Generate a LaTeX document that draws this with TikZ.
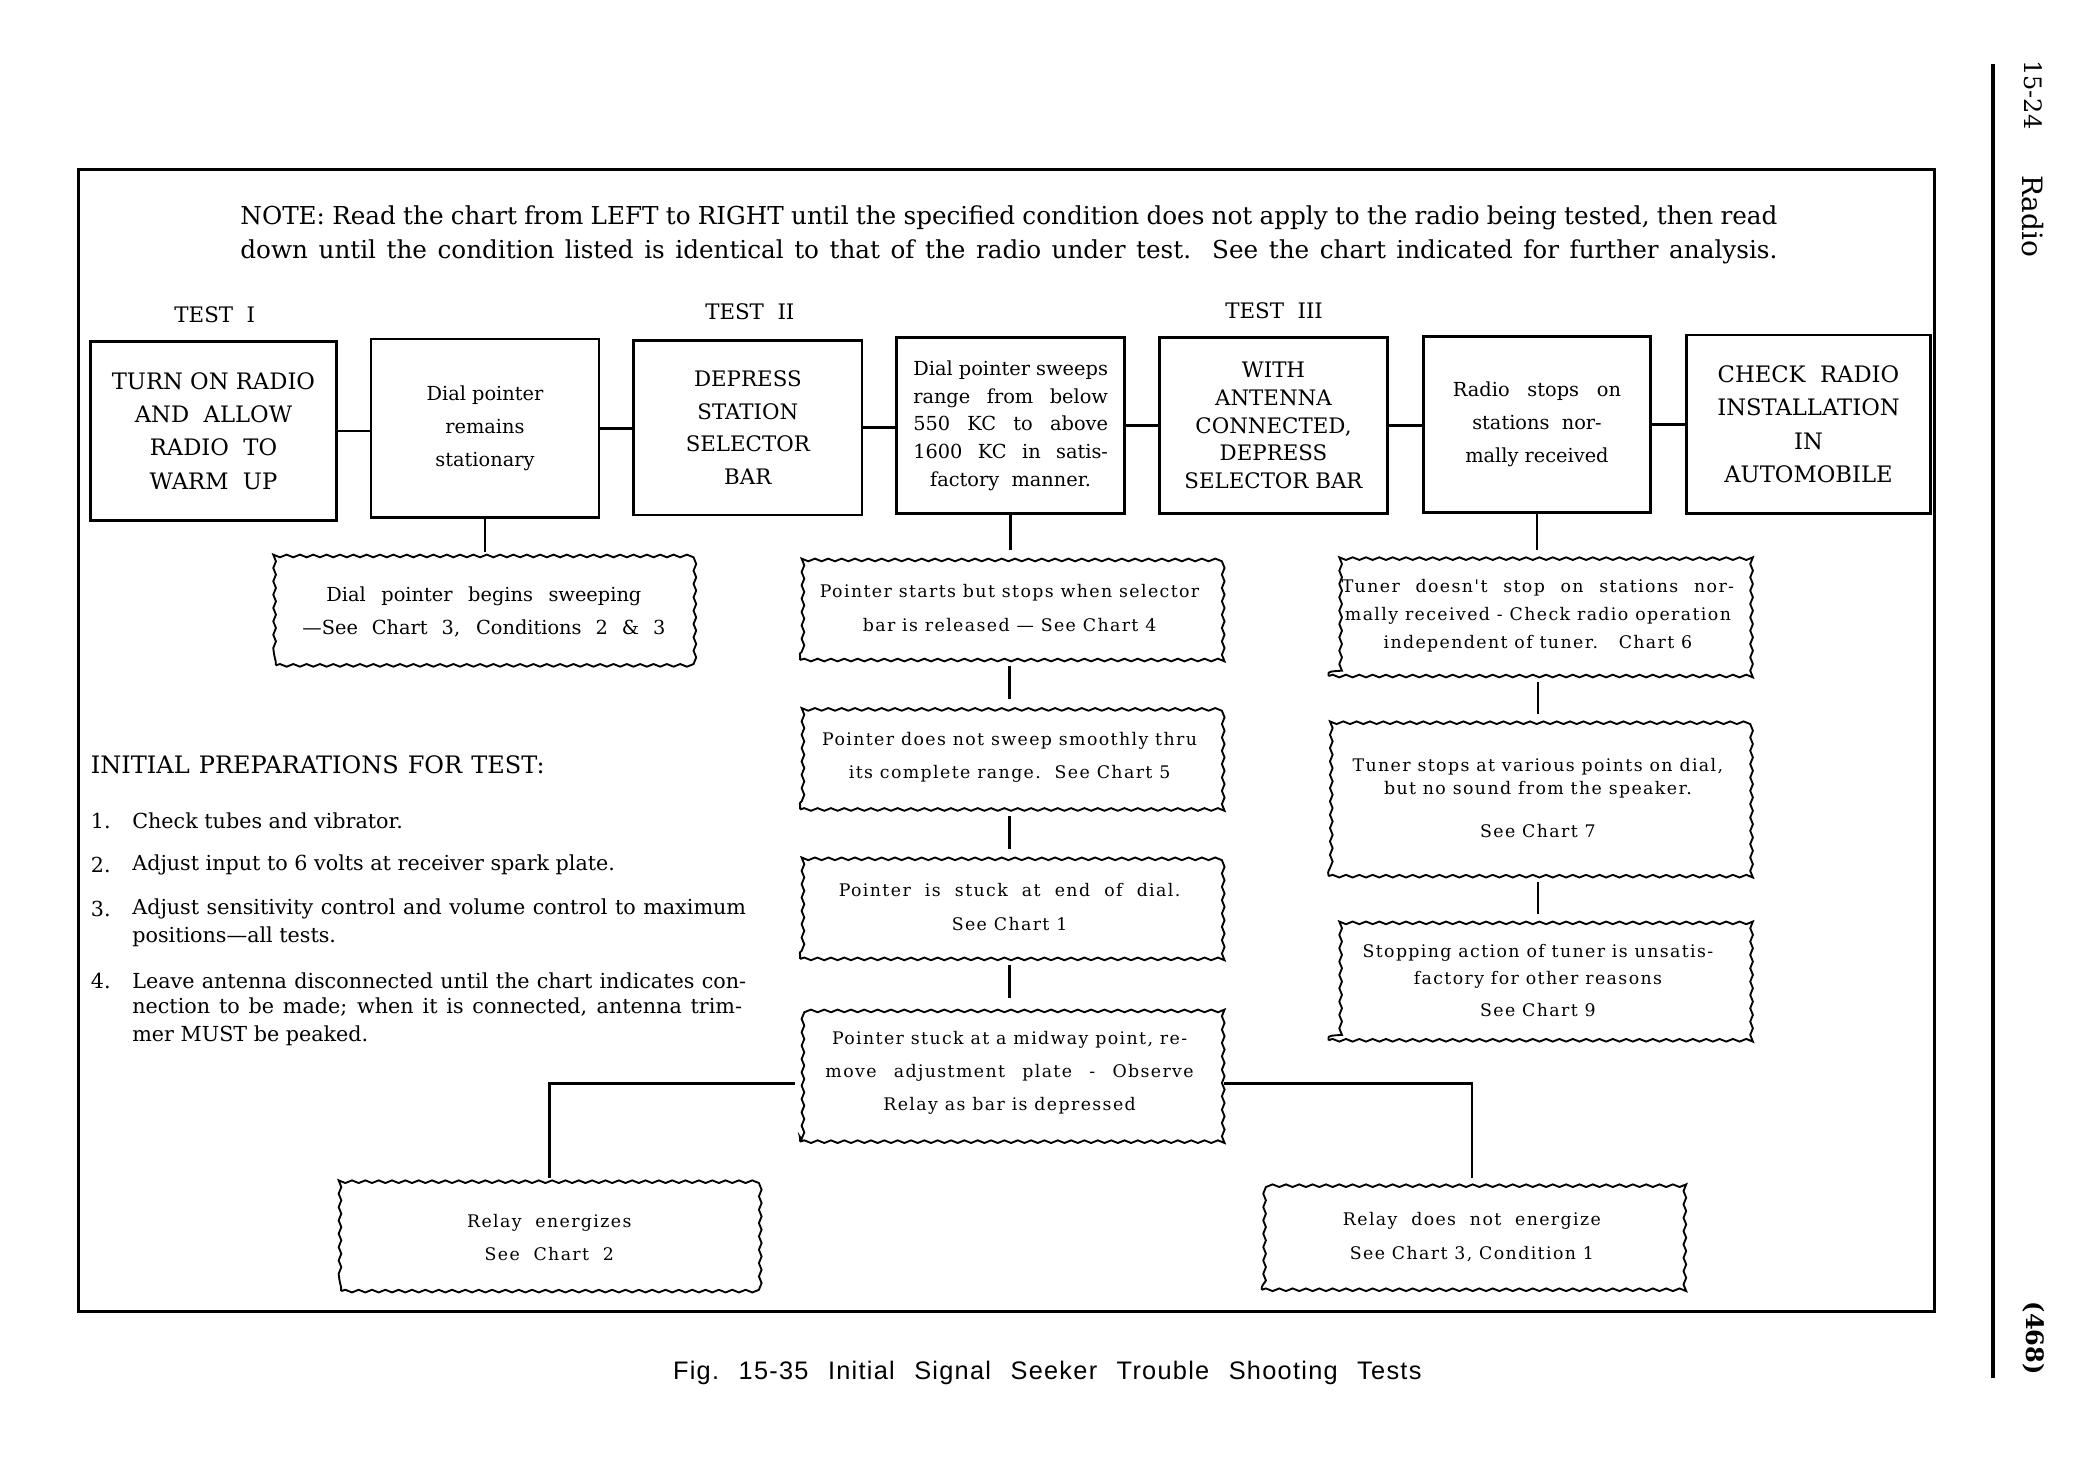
\documentclass[tikz,border=0pt]{standalone}
\usepackage{fontspec}
\setmainfont{DejaVu Serif}
\newfontfamily\wf[LetterSpace=8]{DejaVu Serif}
\newfontfamily\capfont[LetterSpace=5]{Liberation Sans}
\usetikzlibrary{decorations.pathmorphing}
\newcommand{\jl}[2]{\makebox[#1pt][s]{#2}}
\begin{document}
\begin{tikzpicture}[x=1pt,y=-1pt,
  conn/.style={line width=2pt},
  vconn/.style={line width=2pt, shorten >=4pt},
  tbox/.style={draw, line width=2pt, anchor=north west, align=center, inner sep=0pt},
  wbox/.style={draw, line width=1.4pt, decorate, decoration={snake, segment length=10pt, amplitude=1pt}, anchor=north west, align=center, inner sep=0pt},
  txt/.style={inner sep=0pt, anchor=west},
  capsA/.style={font=\fontsize{17}{25}\selectfont},
  capsC/.style={font=\fontsize{16}{24.5}\selectfont},
  capsE/.style={font=\fontsize{16}{20.75}\selectfont},
  lowB/.style={font=\fontsize{14.5}{25}\selectfont},
  lowD/.style={font=\fontsize{14.5}{20.75}\selectfont},
  wtext/.style={font=\wf\fontsize{13}{25}\selectfont},
  listfont/.style={font=\fontsize{15.5}{15.5}\selectfont}]
\useasboundingbox (0,0) rectangle (1568,1106);
\fill[white] (0,0) rectangle (1568,1106);

% outer frame and margin
\draw[line width=2pt] (59,127) rectangle (1450,983);
\draw[line width=3pt] (1494,48) -- (1494,1033);
\node[rotate=-90, inner sep=0pt, font=\fontsize{18}{18}\selectfont] (pgnum) at (1524,71) {15-24};
\node[rotate=-90, inner sep=0pt, font=\fontsize{21}{21}\selectfont] (sect) at (1524,162) {Radio};
\node[rotate=-90, inner sep=0pt, font=\fontsize{18}{18}\selectfont\bfseries] (folio) at (1524,1003) {(468)};

% note
\node[txt, font=\fontsize{18.5}{20}\selectfont] (note1) at (180,163) {\jl{1152}{NOTE: Read the chart from LEFT to RIGHT until the specified condition does not apply to the radio being tested, then read}};
\node[txt, font=\fontsize{18.5}{20}\selectfont] (note2) at (180,189) {\jl{1152}{down until the condition listed is identical to that of the radio under test.\ \ See the chart indicated for further analysis.}};

% test labels
\node[inner sep=0pt, font=\fontsize{16}{16}\selectfont] (t1) at (161,236) {TEST\ \ I};
\node[inner sep=0pt, font=\fontsize{16}{16}\selectfont] (t2) at (562,234) {TEST\ \ II};
\node[inner sep=0pt, font=\fontsize{16}{16}\selectfont] (t3) at (955,233) {TEST\ \ III};

% top row
\node[tbox, capsA, minimum width=184pt, minimum height=134pt] (A) at (67,255) {TURN ON RADIO\\AND\ \ ALLOW\\RADIO\ \ TO\\WARM\ \ UP};
\node[tbox, lowB, minimum width=171pt, minimum height=134pt] (B) at (277,253) {Dial pointer\\remains\\stationary};
\node[tbox, capsC, minimum width=171pt, minimum height=131pt] (C) at (474,254) {DEPRESS\\STATION\\SELECTOR\\BAR};
\node[tbox, lowD, minimum width=171pt, minimum height=132pt] (D) at (671,252) {Dial pointer sweeps\\\jl{146}{range from below}\\\jl{146}{550 KC to above}\\\jl{146}{1600 KC in satis-}\\factory\ \ manner.};
\node[tbox, capsE, minimum width=171pt, minimum height=132pt] (E) at (868,252) {WITH\\ANTENNA\\CONNECTED,\\DEPRESS\\SELECTOR BAR};
\node[tbox, lowB, minimum width=170pt, minimum height=132pt] (F) at (1066,251) {\jl{126}{Radio stops on}\\stations\ \ nor-\\mally received};
\node[tbox, capsA, minimum width=183pt, minimum height=134pt] (G) at (1263,250) {CHECK\ \ RADIO\\INSTALLATION\\IN\\AUTOMOBILE};

\draw[conn] (A.east) -- (A.east -| B.west);
\draw[conn] (B.east) -- (B.east -| C.west);
\draw[conn] (C.east) -- (C.east -| D.west);
\draw[conn] (D.east) -- (D.east -| E.west);
\draw[conn] (E.east) -- (E.east -| F.west);
\draw[conn] (F.east) -- (F.east -| G.west);

% wavy boxes
\node[wbox, font=\fontsize{14.5}{25}\selectfont, minimum width=312pt, minimum height=80pt] (H) at (206,418) {\jl{236}{Dial pointer begins sweeping}\\\jl{272}{---See Chart 3, Conditions 2 \& 3}};
\node[wbox, wtext, minimum width=314pt, minimum height=78pt] (I) at (599,416) {Pointer starts but stops when selector\\bar is released \textemdash\ See Chart 4};
\node[wbox, wtext, minimum width=314pt, minimum height=78pt] (J) at (599,528) {Pointer does not sweep smoothly thru\\its complete range.\ \ See Chart 5};
\node[wbox, wtext, minimum width=314pt, minimum height=78pt] (K) at (599,640) {\jl{256}{Pointer is stuck at end of dial.}\\See Chart 1};
\node[wbox, wtext, minimum width=314pt, minimum height=103pt] (L) at (599,752) {Pointer stuck at a midway point, re-\\\jl{276}{move adjustment plate - Observe}\\Relay as bar is depressed};
\node[wbox, wtext, minimum width=312pt, minimum height=80pt] (M) at (255,887) {Relay\ \ energizes\\See\ \ Chart\ \ 2};
\node[wbox, wtext, minimum width=315pt, minimum height=79pt] (N) at (945,887) {Relay\ \ does\ \ not\ \ energize\\See Chart 3, Condition 1};
\node[wbox, font=\wf\fontsize{13}{21}\selectfont, minimum width=314pt, minimum height=90pt] (O) at (995,416) {\jl{294}{Tuner doesn't stop on stations nor-}\\mally received - Check radio operation\\independent of tuner.\ \ \ Chart 6};
\node[wbox, font=\wf\fontsize{13}{17}\selectfont, minimum width=314pt, minimum height=117pt] (P) at (995,539) {Tuner stops at various points on dial,\\but no sound from the speaker.\\[15pt]See Chart 7};
\node[wbox, font=\wf\fontsize{13}{20}\selectfont, minimum width=314pt, minimum height=90pt] (Q) at (995,689) {Stopping action of tuner is unsatis-\\factory for other reasons\\[4pt]See Chart 9};

\draw[vconn] (B.south) -- (B.south |- H.north);
\draw[vconn] (D.south) -- (D.south |- I.north);
\draw[vconn, shorten <=4pt] (I.south) -- (J.north);
\draw[vconn, shorten <=4pt] (J.south) -- (K.north);
\draw[vconn, shorten <=4pt] (K.south) -- (L.north);
\draw[vconn] (F.south) -- (F.south |- O.north);
\draw[vconn, shorten <=4pt] (O.south) -- (P.north);
\draw[vconn, shorten <=4pt] (P.south) -- (Q.north);
\draw[vconn, shorten <=3pt] ([yshift=-8pt]L.west) -| (M.north);
\draw[vconn, shorten <=3pt] ([yshift=-8pt]L.east) -| (N.north);

% initial preparations
\node[txt, font=\fontsize{18}{18}\selectfont] (prep) at (68,573) {\jl{340}{INITIAL PREPARATIONS FOR TEST:}};
\node[txt, listfont] (n1) at (68,615) {1.};
\node[txt, listfont] (i1) at (99,615) {Check tubes and vibrator.};
\node[txt, listfont] (n2) at (68,648) {2.};
\node[txt, listfont] (i2) at (99,648) {Adjust input to 6 volts at receiver spark plate.};
\node[txt, listfont] (n3) at (68,681) {3.};
\node[txt, listfont] (i3a) at (99,681) {\jl{460}{Adjust sensitivity control and volume control to maximum}};
\node[txt, listfont] (i3b) at (99,702) {positions---all tests.};
\node[txt, listfont] (n4) at (68,735) {4.};
\node[txt, listfont] (i4a) at (99,735) {\jl{460}{Leave antenna disconnected until the chart indicates con-}};
\node[txt, listfont] (i4b) at (99,755) {\jl{457}{nection to be made; when it is connected, antenna trim-}};
\node[txt, listfont] (i4c) at (99,776) {mer MUST be peaked.};

% caption
\node[inner sep=0pt, font=\capfont\fontsize{19}{19}\selectfont] (cap) at (785,1029) {\jl{561}{Fig.\ 15-35 Initial Signal Seeker Trouble Shooting Tests}};
\end{tikzpicture}
\end{document}
